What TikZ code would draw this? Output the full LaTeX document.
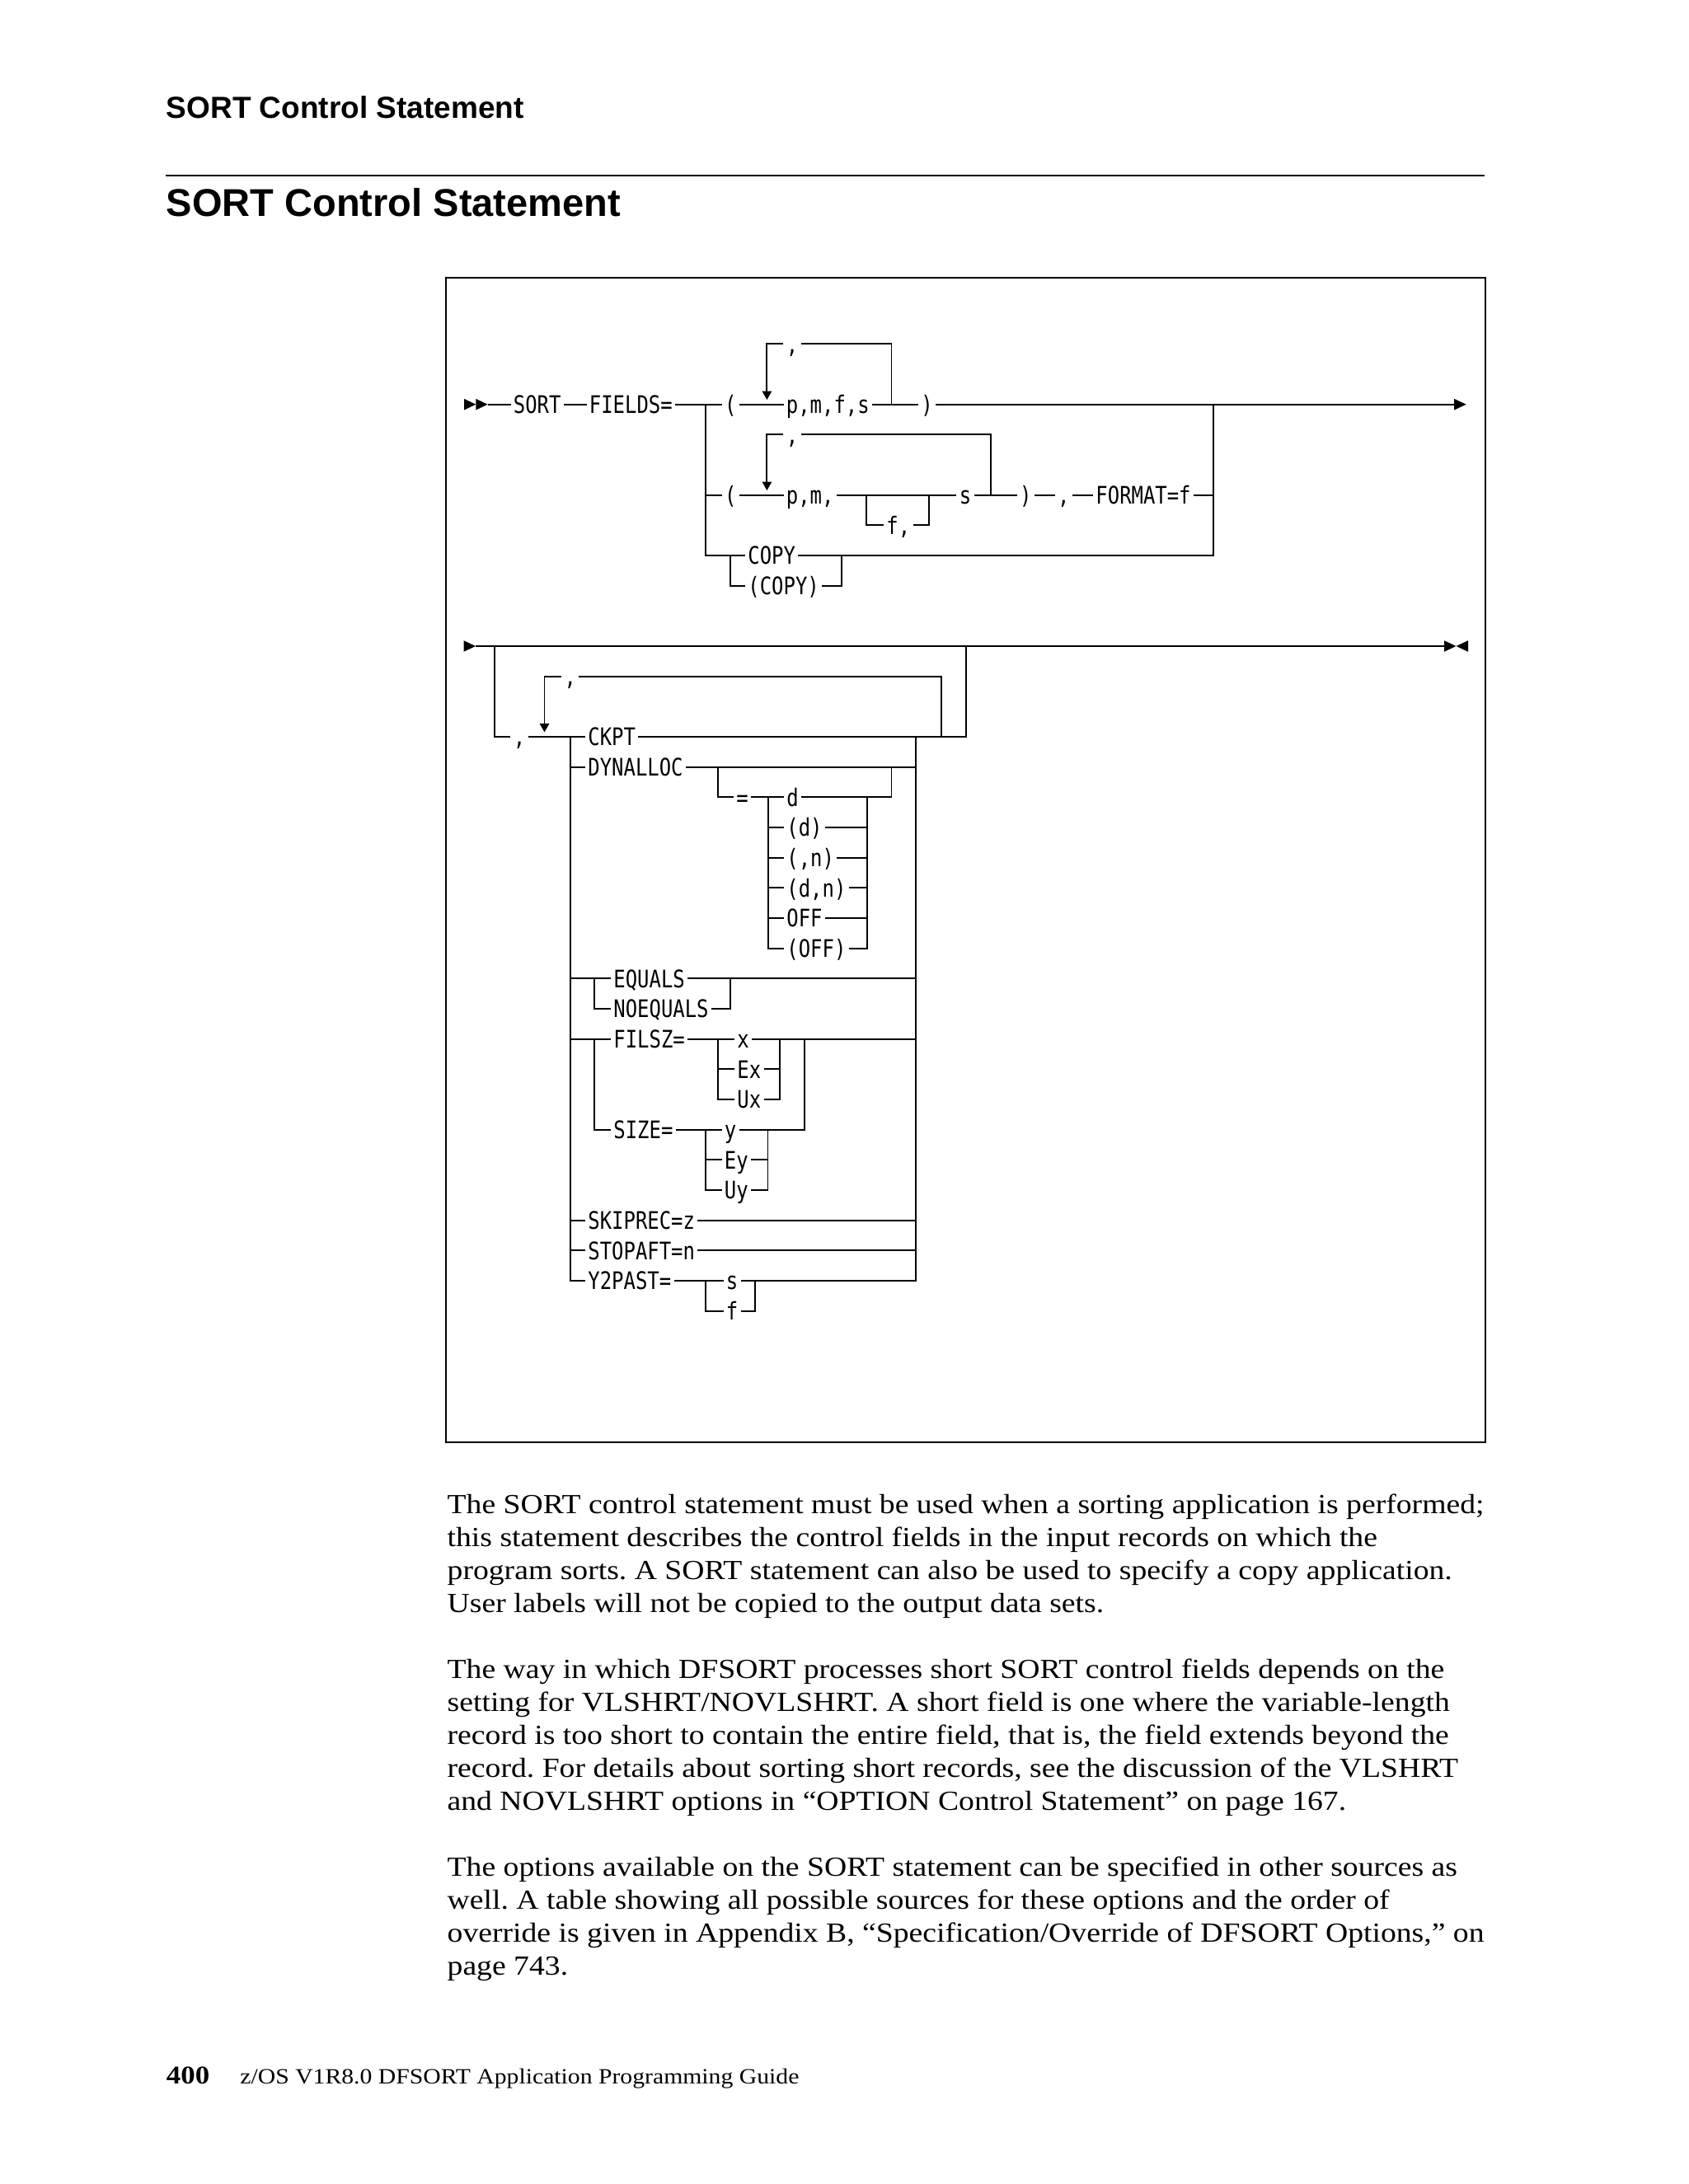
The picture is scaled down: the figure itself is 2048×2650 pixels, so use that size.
\documentclass[tikz,border=0pt]{standalone}
\usepackage{fontspec}
\setmainfont{Liberation Serif}
\newfontfamily\dmfam[FakeStretch=0.816]{DejaVu Sans Mono}
\newfontfamily\hdfam{Liberation Sans}
\newfontfamily\bdfam[FakeStretch=1.125]{Liberation Serif}
\frenchspacing
\begin{document}
\begin{tikzpicture}[x=1pt,y=-1pt,line width=1.9pt,
  tok/.style={font=\dmfam\fontsize{29.3}{31}\selectfont, inner xsep=2.5pt, inner ysep=0pt, text height=21.4pt, text depth=0pt, anchor=west},
  ctok/.style={tok, anchor=center},
  para/.style={font=\bdfam\fontsize{33.5}{40}\selectfont, inner sep=0pt, anchor=base west},
  hd/.style={inner sep=0pt, anchor=base west}]
\useasboundingbox (0,0) rectangle (2048,2650);

% ---------------- page header
\node[hd, font=\hdfam\bfseries\fontsize{37}{40}\selectfont] (hdr) at (201,143) {SORT Control Statement};
\draw[line width=2pt] (201,212.7) -- (1801,212.7);
\node[hd, font=\hdfam\bfseries\fontsize{47}{50}\selectfont] (ttl) at (201,262) {SORT Control Statement};

% ---------------- frame
\draw (541,337.3) rectangle (1802,1750);

% ================= diagram 1
\coordinate (st1) at (563,490.7);
\coordinate (st1b) at (577.3,490.7);
\coordinate (st1e) at (591.6,490.7);
\fill (st1) ++(0,-6.8) -- ++(14.3,6.8) -- ++(-14.3,6.8) -- cycle;
\fill (st1b) ++(0,-6.8) -- ++(14.3,6.8) -- ++(-14.3,6.8) -- cycle;
\node[tok] (sort) at (619.5,490.7) {SORT};
\node[tok] (fields) at (711.5,490.7) {FIELDS=};
\coordinate (j1) at (856,490.7);
\node[ctok] (lp1) at (886.3,490.7) {(};
\node[tok] (pmfs) at (950.5,490.7) {p,m,f,s};
\node[ctok] (rp1) at (1124.6,490.7) {)};
\coordinate (j2) at (1472.3,490.7);
\coordinate (end1) at (1764.2,490.7);
\fill (end1) ++(0,-6.8) -- ++(14.4,6.8) -- ++(-14.4,6.8) -- cycle;
\draw (st1e) -- (sort);
\draw (sort) -- (fields);
\draw (fields) -- (lp1);
\draw (lp1) -- (pmfs);
\draw (pmfs) -- (rp1);
\draw (rp1) -- (end1);
% repeat loop 1
\coordinate (l1a) at (930.4,417.3);
\coordinate (l1b) at (1081.5,417.3);
\coordinate (ar1) at (930.4,474.5);
\node[ctok] (cm1) at (961,417.3) {,};
\draw (ar1) -- (l1a) -- (cm1);
\draw (cm1) -- (l1b) -- (l1b |- pmfs);
\fill (ar1) ++(-6,0) -- ++(12,0) -- ++(-6,10.5) -- cycle;

% row B
\coordinate (jb) at (856,600.7);
\node[ctok] (lp2) at (886.3,600.7) {(};
\node[tok] (pm) at (950.5,600.7) {p,m,};
\coordinate (fa) at (1051,600.7);
\coordinate (fb) at (1126.7,600.7);
\node[tok] (fc) at (1072,637.3) {f,};
\node[ctok] (sx) at (1171,600.7) {s};
\node[ctok] (rp2) at (1244.2,600.7) {)};
\node[ctok] (cm3) at (1290.3,600.7) {,};
\node[tok] (fmt) at (1326,600.7) {FORMAT=f};
\coordinate (jb2) at (1472.3,600.7);
\draw (jb) -- (lp2);
\draw (lp2) -- (pm);
\draw (pm) -- (sx);
\draw (fa) |- (fc);
\draw (fc) -| (fb);
\draw (sx) -- (rp2);
\draw (rp2) -- (cm3);
\draw (cm3) -- (fmt);
\draw (fmt) -- (jb2);
\coordinate (l2a) at (930.4,527.3);
\coordinate (l2b) at (1201.8,527.3);
\coordinate (ar2) at (930.4,584.5);
\node[ctok] (cm2) at (961,527.3) {,};
\draw (ar2) -- (l2a) -- (cm2);
\draw (cm2) -- (l2b) -- (l2b |- sx);
\fill (ar2) ++(-6,0) -- ++(12,0) -- ++(-6,10.5) -- cycle;

% row C
\node[tok] (copy) at (904,674) {COPY};
\node[tok] (pcopy) at (904,710.7) {(COPY)};
\coordinate (ca) at (886.3,674);
\coordinate (cb) at (1021.4,674);
\draw (j1) |- (copy);
\draw (copy) -| (j2);
\draw (ca) |- (pcopy);
\draw (pcopy) -| (cb);

% ================= diagram 2
\coordinate (st2) at (562.5,784);
\coordinate (st2e) at (577,784);
\fill (st2) ++(0,-6.8) -- ++(14.5,6.8) -- ++(-14.5,6.8) -- cycle;
\coordinate (end2) at (1752,784);
\coordinate (end2r) at (1781,784);
\fill (end2) ++(0,-6.8) -- ++(14.5,6.8) -- ++(-14.5,6.8) -- cycle;
\fill (end2r) ++(0,-6.8) -- ++(-14.5,6.8) -- ++(14.5,6.8) -- cycle;
\draw (st2e) -- (end2);
\coordinate (oa) at (600.3,784);
\coordinate (ob) at (1171.7,784);
\node[ctok] (cm4) at (630,894) {,};
\node[tok] (ckpt) at (710,894) {CKPT};
\coordinate (ch1) at (691.8,894);
\coordinate (ch2) at (1111.4,894);
\draw (oa) |- (cm4);
\draw (cm4) -- (ckpt);
\draw (ckpt) -| (ob);
\coordinate (ia) at (660.5,820.7);
\coordinate (ib) at (1142.2,820.7);
\coordinate (ar3) at (660.5,877.8);
\node[ctok] (cm5) at (691.8,820.7) {,};
\draw (ar3) -- (ia) -- (cm5);
\draw (cm5) -- (ib) -- (ib |- ckpt);
\fill (ar3) ++(-6,0) -- ++(12,0) -- ++(-6,10.5) -- cycle;

% choice group
\node[tok] (dyn) at (710,930.7) {DYNALLOC};
\node[tok] (eqs) at (741,1187.3) {EQUALS};
\node[tok] (noeq) at (741,1224) {NOEQUALS};
\node[tok] (fil) at (741,1260.7) {FILSZ=};
\node[tok] (size) at (741,1370.7) {SIZE=};
\node[tok] (skp) at (710,1480.7) {SKIPREC=z};
\node[tok] (stp) at (710,1517.3) {STOPAFT=n};
\node[tok] (y2p) at (710,1554) {Y2PAST=};
\draw (ch1) |- (y2p);
\draw (ch1 |- dyn) -- (dyn) -- (ch2 |- dyn);
\draw (ch1 |- eqs) -- (eqs) -- (ch2 |- eqs);
\draw (ch1 |- skp) -- (skp) -- (ch2 |- skp);
\draw (ch1 |- stp) -- (stp) -- (ch2 |- stp);

% DYNALLOC options
\coordinate (da) at (871.2,930.7);
\coordinate (db) at (1081.5,930.7);
\node[ctok] (eq) at (900.5,967.3) {=};
\node[tok] (od1) at (951,967.3) {d};
\node[tok] (od2) at (951,1004) {(d)};
\node[tok] (od3) at (951,1040.7) {(,n)};
\node[tok] (od4) at (951,1077.3) {(d,n)};
\node[tok] (od5) at (951,1114) {OFF};
\node[tok] (od6) at (951,1150.7) {(OFF)};
\coordinate (oL) at (932,967.3);
\coordinate (oR) at (1051.6,967.3);
\draw (da) |- (eq);
\draw (eq) -- (od1);
\draw (od1) -| (db);
\draw (oL) |- (od6);
\draw (od6) -| (oR);
\draw (oL |- od2) -- (od2) -- (oR |- od2);
\draw (oL |- od3) -- (od3) -- (oR |- od3);
\draw (oL |- od4) -- (od4) -- (oR |- od4);
\draw (oL |- od5) -- (od5) -- (oR |- od5);

% EQUALS / NOEQUALS
\coordinate (ea) at (720.8,1187.3);
\coordinate (eb) at (886,1187.3);
\draw (ea) |- (noeq);
\draw (noeq) -| (eb);

% FILSZ / SIZE
\coordinate (fa2) at (720.8,1260.7);
\node[tok] (xx) at (891,1260.7) {x};
\node[tok] (ex) at (891,1297.3) {Ex};
\node[tok] (ux) at (891,1334) {Ux};
\coordinate (xl) at (871.2,1260.7);
\coordinate (xr) at (946.3,1260.7);
\coordinate (fr) at (976.2,1260.7);
\draw (ch1 |- fil) -- (fil) -- (xx) -- (ch2 |- xx);
\draw (xl) |- (ux);
\draw (ux) -| (xr);
\draw (xl |- ex) -- (ex) -- (xr |- ex);
\draw (fa2) |- (size);
\node[tok] (yy) at (875.5,1370.7) {y};
\node[tok] (ey) at (875.5,1407.3) {Ey};
\node[tok] (uy) at (875.5,1444) {Uy};
\coordinate (yl) at (856,1370.7);
\coordinate (yr) at (931.5,1370.7);
\draw (size) -- (yy);
\draw (yy) -| (fr);
\draw (yl) |- (uy);
\draw (uy) -| (yr);
\draw (yl |- ey) -- (ey) -- (yr |- ey);

% Y2PAST
\node[tok] (ss) at (877.5,1554) {s};
\node[tok] (ff) at (877.5,1590.7) {f};
\coordinate (sl) at (856,1554);
\coordinate (sr) at (916.3,1554);
\draw (y2p) -- (ss);
\draw (ss) -| (ch2);
\draw (sl) |- (ff);
\draw (ff) -| (sr);

% ---------------- body text
\node[para] (p1a) at (541.7,1836) {The SORT control statement must be used when a sorting application is performed;};
\node[para] (p1b) at (541.7,1876) {this statement describes the control fields in the input records on which the};
\node[para] (p1c) at (541.7,1916) {program sorts. A SORT statement can also be used to specify a copy application.};
\node[para] (p1d) at (541.7,1956) {User labels will not be copied to the output data sets.};
\node[para] (p2a) at (541.7,2036) {The way in which DFSORT processes short SORT control fields depends on the};
\node[para] (p2b) at (541.7,2076) {setting for VLSHRT/NOVLSHRT. A short field is one where the variable-length};
\node[para] (p2c) at (541.7,2116) {record is too short to contain the entire field, that is, the field extends beyond the};
\node[para] (p2d) at (541.7,2156) {record. For details about sorting short records, see the discussion of the VLSHRT};
\node[para] (p2e) at (541.7,2196) {and NOVLSHRT options in “OPTION Control Statement” on page 167.};
\node[para] (p3a) at (541.7,2276) {The options available on the SORT statement can be specified in other sources as};
\node[para] (p3b) at (541.7,2316) {well. A table showing all possible sources for these options and the order of};
\node[para] (p3c) at (541.7,2356) {override is given in Appendix B, “Specification/Override of DFSORT Options,” on};
\node[para] (p3d) at (541.7,2396) {page 743.};

% ---------------- footer
\node[para, font=\bdfam\bfseries\fontsize{31}{34}\selectfont] (pg) at (201,2528) {400};
\node[para, font=\bdfam\fontsize{26.4}{30}\selectfont] (guide) at (290.5,2528) {z/OS V1R8.0 DFSORT Application Programming Guide};
\end{tikzpicture}
\end{document}
